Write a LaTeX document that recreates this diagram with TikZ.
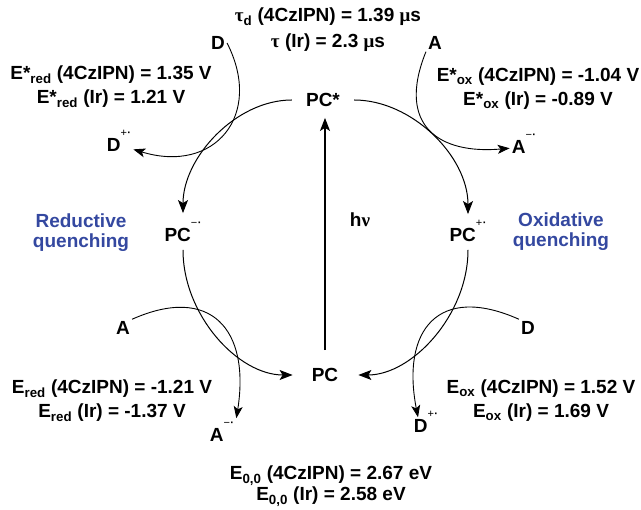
\documentclass[tikz,border=0pt]{standalone}
\usepackage{fontspec}
\setmainfont{Liberation Sans}
\newfontfamily\greekfont{Liberation Serif}
\usetikzlibrary{arrows.meta}

\definecolor{quenchblue}{RGB}{52,72,160}
% radical charge written above right of a species
\newcommand{\chg}[1]{\smash{\raisebox{15pt}{\fontsize{11}{11}\selectfont\mdseries #1\kern0.5pt\textbf{·}}}}

\begin{document}
\begin{tikzpicture}[
  x=1pt, y=1pt,
  lab/.style={align=center, font=\fontsize{19}{24}\selectfont\bfseries, inner sep=0pt},
  species/.style={font=\fontsize{19}{21}\selectfont\bfseries, inner sep=2pt},
  cyc/.style={-{Stealth[length=13pt,width=10pt,inset=3pt]}, line width=1pt},
  quench/.style={-{Stealth[length=12pt,width=9pt,inset=3pt]}, line width=0.9pt}
]
  \useasboundingbox (0,0) rectangle (641,510);

  % photocatalyst states
  \node[species] (pcex) at (323,410) {PC*};
  \node[species] (pcan) at (183,275) {PC\chg{−}};
  \node[species] (pccat) at (468,275) {PC\chg{+}};
  \node[species] (pc) at (325,135) {PC};

  % donors and acceptors
  \node[species] (dred) at (218,467) {D};
  \node[species] (dredrad) at (119,365) {D\chg{+}};
  \node[species] (aox) at (435,467) {A};
  \node[species] (aoxrad) at (524,363) {A\chg{−}};
  \node[species] (ared) at (123,182) {A};
  \node[species] (aredrad) at (222,75) {A\chg{−}};
  \node[species] (dox) at (528,182) {D};
  \node[species] (doxrad) at (426,84) {D\chg{+}};

  % data labels
  \node[lab, font=\fontsize{19}{26}\selectfont\bfseries] (tau) at (328,480)
    {{\greekfont τ}\textsubscript{d} (4CzIPN) = 1.39 {\greekfont μ}s\\{\greekfont τ} (Ir) = 2.3 {\greekfont μ}s};
  \node[lab] (eredex) at (111,423) {E*\textsubscript{red} (4CzIPN) = 1.35 V\\E*\textsubscript{red} (Ir) = 1.21 V};
  \node[lab] (eoxex) at (538,421) {E*\textsubscript{ox} (4CzIPN) = -1.04 V\\E*\textsubscript{ox} (Ir) = -0.89 V};
  \node[lab] (ered) at (112,109) {E\textsubscript{red} (4CzIPN) = -1.21 V\\E\textsubscript{red} (Ir) = -1.37 V};
  \node[lab] (eox) at (541,109) {E\textsubscript{ox} (4CzIPN) = 1.52 V\\E\textsubscript{ox} (Ir) = 1.69 V};
  \node[lab, font=\fontsize{19}{21}\selectfont\bfseries] (ezero) at (331,24)
    {E\textsubscript{0,0} (4CzIPN) = 2.67 eV\\E\textsubscript{0,0} (Ir) = 2.58 eV};
  \node[lab, text=quenchblue, font=\fontsize{19}{20}\selectfont\bfseries] (redq) at (81,277) {Reductive\\quenching};
  \node[lab, text=quenchblue, font=\fontsize{19}{20}\selectfont\bfseries] (oxq) at (561,278) {Oxidative\\quenching};
  \node[lab] (hv) at (360,290) {h{\greekfont ν}};

  % catalytic cycle
  \draw[cyc, shorten <=12pt, shorten >=13pt] (pcex) to[out=180, in=90] (pcan);
  \draw[cyc, shorten <=6pt, shorten >=17pt] (pcan) to[out=-90, in=180] (pc);
  \draw[cyc, shorten <=12pt, shorten >=12pt] (pcex) to[out=0, in=90] (pccat);
  \draw[cyc, shorten <=6pt, shorten >=18pt] (pccat) to[out=-90, in=0] (pc);
  \draw[cyc, line width=1.2pt, shorten <=16pt, shorten >=9pt] (pc) -- (pc |- pcex.south);

  % electron transfer
  \draw[quench] (dred.east) .. controls +(-63:81) and +(-17:100) .. (dredrad);
  \draw[quench] (aox.south west) .. controls +(-112:80) and +(185:85) .. (aoxrad);
  \draw[quench] (ared.north east) .. controls +(24:86) and +(81:90) .. ([yshift=8pt]aredrad.north east);
  \draw[quench] (dox.north west) .. controls +(156:88) and +(101:89) .. ([xshift=-8pt]doxrad.north);
\end{tikzpicture}
\end{document}
